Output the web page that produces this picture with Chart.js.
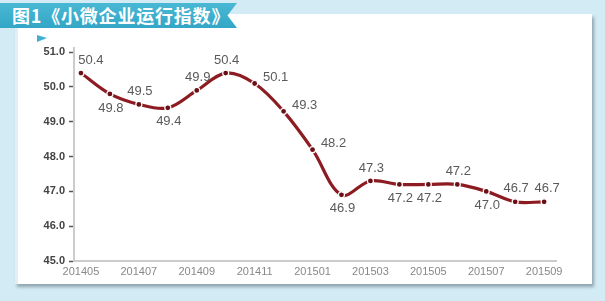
<!DOCTYPE html>
<html>
<head>
<meta charset="utf-8">
<script src="https://cdn.jsdelivr.net/npm/chart.js@4.4.1/dist/chart.umd.min.js"></script>
<style>
  html, body { margin:0; padding:0; }
  body { width:605px; height:301px; position:relative; overflow:hidden; background:#d3ebf4; font-family:"Liberation Sans", Arial, sans-serif; }
  #card { position:absolute; left:15px; top:14px; width:577px; height:270px; background:#fff;
          box-shadow: 2px 3px 3px rgba(90,110,120,0.55); border-left:3px solid #e3eef2; box-sizing:border-box; }
  #banner { position:absolute; left:0; top:3px; width:237px; height:25px; background:linear-gradient(#49b8d4,#33a6c6);
            clip-path: polygon(0 0, 100% 0, 96% 50%, 100% 100%, 0 100%); }
  #title { position:absolute; left:12px; top:3px; height:25px; line-height:25px; color:#fff; font-weight:bold;
           font-size:18px; font-family:"Noto Sans CJK SC", sans-serif; white-space:nowrap; letter-spacing:0.8px; }
  #tri { position:absolute; left:37px; top:35px; width:0; height:0; border-top:3px solid transparent;
         border-bottom:4px solid transparent; border-left:10px solid #3fb0cf; }
  #wrap { position:absolute; left:0; top:0; width:605px; height:301px; }
</style>
</head>
<body>
<div id="card"></div>
<div id="banner"></div>
<div id="title">图1《小微企业运行指数》</div>
<div id="tri"></div>
<div id="wrap"><canvas id="c" width="605" height="301"></canvas></div>
<script>
const months = ['201405','201406','201407','201408','201409','201410','201411','201412','201501','201502','201503','201504','201505','201506','201507','201508','201509'];
const indexValues = [50.4,49.8,49.5,49.4,49.9,50.4,50.1,49.3,48.2,46.9,47.3,47.2,47.2,47.2,47.0,46.7,46.7];
const yTicks = [45,46,47,48,49,50,51];
const labelPlacement = ['up','down','up','down','up','up','right','right','right','down','up','down','down','up','down','up','up'];

const points = indexValues.map((v,i)=>({x:i,y:v}));

const labelPlugin = {
  id:'valueLabels',
  afterDatasetsDraw(chart){
    const ctx = chart.ctx;
    const xs = chart.scales.x, ys = chart.scales.y;
    ctx.save();
    ctx.font = '13px "Liberation Sans", Arial, sans-serif';
    ctx.fillStyle = '#5a5a5a';
    ctx.textAlign = 'center';
    ctx.textBaseline = 'middle';
    indexValues.forEach((v,i)=>{
      const px = xs.getPixelForValue(i), py = ys.getPixelForValue(v);
      let dx=0, dy=0;
      const p = labelPlacement[i];
      if (p==='up'){ dx=i===0?10:(i===16?3:1); dy=-13; }
      else if (p==='down'){ dx=1; dy=14; }
      else { dx=21; dy=-6; }
      ctx.fillText(v.toFixed(1), px+dx, py+dy);
    });
    ctx.restore();
  }
};

new Chart(document.getElementById('c'), {
  type:'line',
  data:{ datasets:[{
    data: points,
    borderColor:'#8c1c22',
    borderWidth:3.2,
    pointRadius:3,
    pointBorderWidth:1.2,
    pointBorderColor:'#fff',
    pointBackgroundColor:'#6a0f15',
    tension:0.35,
    fill:false
  }]},
  options:{
    responsive:false,
    animation:false,
    devicePixelRatio:1,
    layout:{ padding:{ top:48, right:49, left:0, bottom:0 } },
    plugins:{ legend:{display:false}, tooltip:{enabled:false} },
    scales:{
      x:{
        type:'linear', min:-0.24, max:16.41,
        afterBuildTicks(s){ s.ticks = months.map((m,i)=>({value:i})).filter(t=>t.value%2===0); },
        afterFit(s){ s.height = 40; },
        ticks:{ autoSkip:false, maxRotation:0, padding:4, color:'#888',
                font:{ size:11, family:'"Liberation Sans", Arial, sans-serif' },
                callback:(v)=>months[v] },
        grid:{ drawOnChartArea:false, drawTicks:false },
        border:{ color:'#ccc', width:2 }
      },
      y:{
        min:45, max:51.12,
        afterBuildTicks(s){ s.ticks = yTicks.map(v=>({value:v})); },
        afterFit(s){ s.width = 74; },
        ticks:{ color:'#444', padding:4, font:{ size:11, weight:'bold', family:'"Liberation Sans", Arial, sans-serif' },
                callback:(v)=>v.toFixed(1) },
        grid:{ drawOnChartArea:false, drawTicks:true, tickLength:5, tickColor:'#555', tickWidth:1.5 },
        border:{ color:'#ccc', width:2 }
      }
    }
  },
  plugins:[labelPlugin]
});
</script>
</body>
</html>
